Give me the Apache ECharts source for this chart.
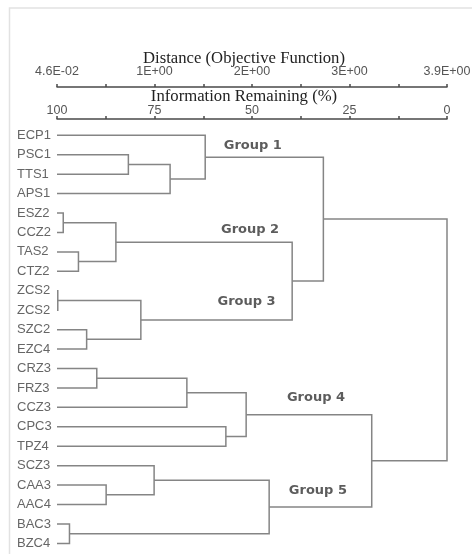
<!DOCTYPE html>
<html><head><meta charset="utf-8">
<script src="https://cdn.jsdelivr.net/npm/echarts@6/dist/echarts.min.js"></script>
<style>html,body{margin:0;padding:0;background:#fff}#c{width:472px;height:554px}</style>
</head><body><div id="c"></div>
<script>
// Leaves (top to bottom)
const leaves = ['ECP1','PSC1','TTS1','APS1','ESZ2','CCZ2','TAS2','CTZ2','ZCS2','ZCS2','SZC2','EZC4','CRZ3','FRZ3','CCZ3','CPC3','TPZ4','SCZ3','CAA3','AAC4','BAC3','BZC4'];
// Merges: children indices (leaves 0..21, merges 22..) and height (Information Remaining %)
const mergeLeft  = [1, 22, 0, 4, 6, 25, 8, 10, 28, 27, 24, 12, 33, 15, 34, 18, 17, 20, 38, 36, 32];
const mergeRight = [2, 3, 23, 5, 7, 26, 9, 11, 29, 30, 31, 13, 14, 16, 35, 19, 37, 21, 39, 40, 41];
const mergeHeight = [81.7, 71.0, 62.0, 98.4, 94.5, 84.9, 99.8, 92.4, 78.5, 39.7, 31.7, 89.8, 66.7, 56.7, 51.5, 87.4, 75.1, 96.8, 45.6, 19.3, 0];
// Axis tick labels
const distanceTicks = ['4.6E-02','','1E+00','','2E+00','','3E+00','','3.9E+00'];
const infoTicks = [100, 75, 50, 25, 0];
// Group annotations (value space: info %, leaf units)
const groupNames = ['Group 1','Group 2','Group 3','Group 4','Group 5'];
const groupLabelX = [49.8, 50.5, 51.4, 33.6, 33.1];
const groupLabelY = [0.55, 4.87, 8.56, 13.5, 18.3];

const nodeX = leaves.map(() => 100);
const nodeY = leaves.map((_, i) => i);
mergeLeft.forEach((l, k) => {
  const r = mergeRight[k];
  nodeX.push(mergeHeight[k]);
  nodeY.push((nodeY[l] + nodeY[r]) / 2);
});
const linkData = mergeLeft.map((l, k) => {
  const r = mergeRight[k];
  return [nodeX[l], nodeY[l], mergeHeight[k], nodeY[r], nodeX[r]];
});

const chart = echarts.init(document.getElementById('c'), null, {renderer: 'canvas'});
const axisLineStyle = {color: '#4a4a4a', width: 1.5};
chart.setOption({
  animation: false,
  backgroundColor: '#fff',
  graphic: [{
    type: 'polyline', silent: true,
    shape: {points: [[9.5, 600], [9.5, 8], [480, 8]]},
    style: {stroke: '#e2e2e2', lineWidth: 1.5, fill: null}
  }],
  grid: {left: 57, right: 25, top: 125.6, height: 427.5, outerBoundsMode: 'none', containLabel: false},
  xAxis: [{
    type: 'value', position: 'top', min: 0, max: 100, interval: 12.5, inverse: true, offset: 6.6,
    name: 'Information Remaining (%)', nameLocation: 'middle', nameGap: 13.5, nameMoveOverlap: false,
    nameTextStyle: {fontFamily: 'Liberation Serif', fontSize: 16.7, color: '#222', padding: [0, 16, 0, 0]},
    axisLine: {show: true, onZero: false, lineStyle: axisLineStyle},
    axisTick: {show: true, length: 3, lineStyle: {color: '#4a4a4a', width: 1.5}},
    axisLabel: {margin: 2, fontFamily: 'Liberation Sans', fontSize: 12.5, color: '#555',
      formatter: v => infoTicks.indexOf(v) >= 0 ? String(v) : ''},
    splitLine: {show: false}
  }, {
    type: 'category', position: 'top', offset: 38.6, boundaryGap: false, data: distanceTicks,
    name: 'Distance (Objective Function)', nameLocation: 'middle', nameGap: 19.5, nameMoveOverlap: false,
    nameTextStyle: {fontFamily: 'Liberation Serif', fontSize: 16.7, color: '#222', padding: [0, 16, 0, 0]},
    axisLine: {show: true, onZero: false, lineStyle: axisLineStyle},
    axisTick: {show: true, length: 3, interval: 0, lineStyle: {color: '#4a4a4a', width: 1.5}},
    axisLabel: {interval: 0, margin: 8.5, fontFamily: 'Liberation Sans', fontSize: 12.5, color: '#555'},
    splitLine: {show: false}
  }],
  yAxis: [{
    type: 'category', data: leaves, inverse: true,
    axisLine: {show: false}, axisTick: {show: false}, splitLine: {show: false},
    axisLabel: {interval: 0, align: 'left', margin: 40, fontFamily: 'Liberation Sans', fontSize: 13, color: '#666'}
  }, {
    type: 'value', min: -0.5, max: 21.5, inverse: true, show: false
  }],
  series: [{
    type: 'custom', xAxisIndex: 0, yAxisIndex: 1, silent: true,
    encode: {x: [0, 2, 4], y: [1, 3]},
    data: linkData,
    renderItem: (params, api) => {
      const p1 = api.coord([api.value(0), api.value(1)]);
      const p2 = api.coord([api.value(2), api.value(1)]);
      const p3 = api.coord([api.value(2), api.value(3)]);
      const p4 = api.coord([api.value(4), api.value(3)]);
      return {type: 'polyline', shape: {points: [p1, p2, p3, p4]},
        style: {stroke: '#858585', lineWidth: 1.5, fill: null}};
    }
  }, {
    type: 'scatter', xAxisIndex: 0, yAxisIndex: 1, silent: true, symbolSize: 0,
    data: groupNames.map((n, i) => ({name: n, value: [groupLabelX[i], groupLabelY[i]]})),
    label: {show: true, position: 'inside', formatter: '{b}', fontFamily: 'DejaVu Sans',
      fontWeight: 'bold', fontSize: 13, color: '#333'}
  }]
});
</script>
</body></html>
